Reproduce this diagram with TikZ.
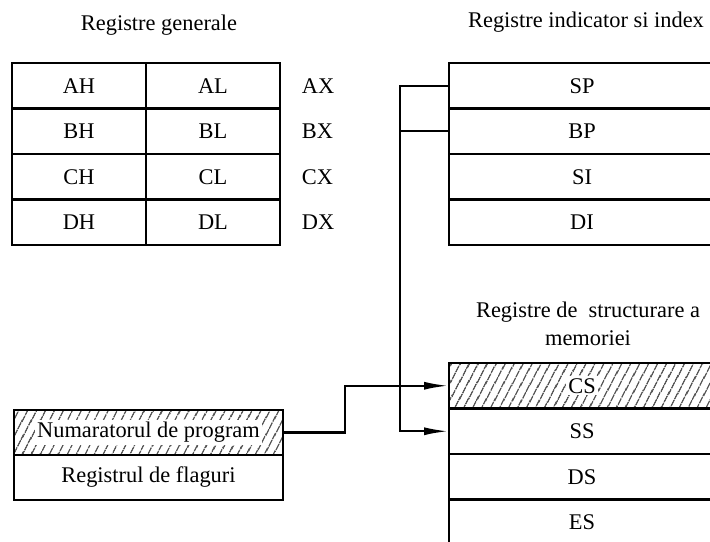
\documentclass[tikz,border=0pt]{standalone}
\usepackage{fontspec}
\setmainfont{Liberation Serif}
\usepackage{tikz}
\usetikzlibrary{arrows.meta,calc,positioning,patterns.meta}

\newcommand{\hatchtext}[1]{{\setlength{\fboxsep}{1pt}\colorbox{white}{#1}}}

\begin{document}
\begin{tikzpicture}[x=0.5pt,y=-0.5pt,>={Latex[length=12.5pt,width=4pt]},line width=1.2pt,font=\fontsize{11.2}{14}\selectfont]
	\tikzstyle{cell} = [draw, rectangle, outer sep=0pt, inner sep=0pt, minimum height=22.75pt]
	\tikzstyle{half} = [cell, minimum width=67pt]
	\tikzstyle{wide} = [cell, minimum width=133pt]
	\tikzstyle{pcbox} = [cell, minimum width=134.5pt, minimum height=22.5pt]
	\tikzstyle{hatched} = [pattern={Lines[angle=62,distance=4pt,line width=0.55pt]}]
	
	\useasboundingbox (0,0) rectangle (710,541);
	\clip (0,0) rectangle (710,541);
	
	% registre generale
	\node (gentitle) at (159,25) {Registre generale};
	\node [half, anchor=north west] (ah) at (12,63) {AH};
	\node [half, right=0pt of ah] (al) {AL};
	\node [half, below=0pt of ah] (bh) {BH};
	\node [half, right=0pt of bh] (bl) {BL};
	\node [half, below=0pt of bh] (ch) {CH};
	\node [half, right=0pt of ch] (cl) {CL};
	\node [half, below=0pt of ch] (dh) {DH};
	\node [half, right=0pt of dh] (dl) {DL};
	\node [right=7pt of al] (ax) {AX};
	\node [right=7pt of bl] (bx) {BX};
	\node [right=7pt of cl] (cx) {CX};
	\node [right=7pt of dl] (dx) {DX};
	
	% registre indicator si index
	\node (idxtitle) at (586,22) {Registre indicator si index};
	\node [wide, anchor=north west] (sp) at (449,63) {SP};
	\node [wide, below=0pt of sp] (bp) {BP};
	\node [wide, below=0pt of bp] (si) {SI};
	\node [wide, below=0pt of si] (di) {DI};
	
	% registre de segment
	\node [align=center] (memtitle) at (588,324) {Registre de~ structurare a\\memoriei};
	\node [wide, hatched, anchor=north west] (cs) at (449,363) {\hatchtext{CS}};
	\node [wide, below=0pt of cs] (ss) {SS};
	\node [wide, below=0pt of ss] (ds) {DS};
	\node [wide, below=0pt of ds] (es) {ES};
	
	% IP si flaguri
	\node [pcbox, hatched, anchor=north west] (pc) at (14,410) {\hatchtext{Numaratorul de program}};
	\node [pcbox, below=0pt of pc] (flags) {Registrul de flaguri};
	
	\coordinate (bus) at (400,0);
	\draw [->] (sp.west) -- (bus |- sp.west) -- (bus |- ss.west) -- (ss.west);
	\draw (bp.west) -- (bus |- bp.west);
	\draw [->] (pc.east) -- ++(62,0) |- (cs.west);
	
\end{tikzpicture}
\end{document}
